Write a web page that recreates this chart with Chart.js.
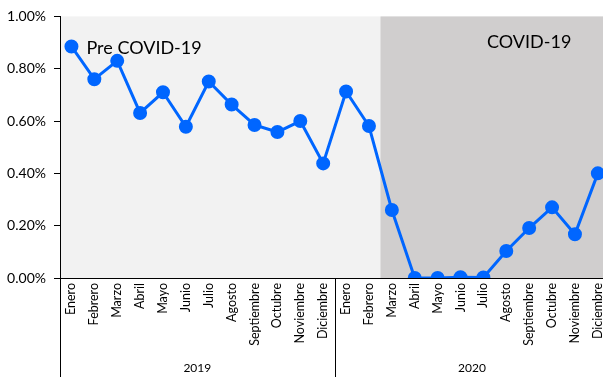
<!DOCTYPE html>
<html>
<head>
<meta charset="utf-8">
<script src="https://cdn.jsdelivr.net/npm/chart.js@4/dist/chart.umd.min.js"></script>
<style>
  html, body { margin: 0; padding: 0; background: #fff; overflow: hidden; }
  #chart { display: block; }
</style>
</head>
<body>
<canvas id="chart" width="618" height="377"></canvas>
<script>
const months = ['Enero', 'Febrero', 'Marzo', 'Abril', 'Mayo', 'Junio', 'Julio', 'Agosto',
    'Septiembre', 'Octubre', 'Noviembre', 'Diciembre'];
const years = ['2019', '2020'];
const labels = years.flatMap(() => months);

// monthly rate, in percent
const rate2019 = [0.885, 0.76, 0.83, 0.631, 0.71, 0.578, 0.751, 0.663, 0.585, 0.558, 0.60, 0.438];
const rate2020 = [0.713, 0.581, 0.26, 0.0, 0.0, 0.003, 0.002, 0.103, 0.191, 0.27, 0.167, 0.40];
const rates = rate2019.concat(rate2020).map(v => v / 100);

// first month of the COVID-19 period (Marzo 2020)
const covidStart = 14;
const periodLabels = ['Pre COVID-19', 'COVID-19'];

const FONT = 'Lato, "Open Sans", sans-serif';

const periodsPlugin = {
    id: 'periods',
    beforeDraw(chart) {
        const { ctx, chartArea, scales: { x } } = chart;
        const split = (x.getPixelForValue(covidStart - 1) + x.getPixelForValue(covidStart)) / 2;
        ctx.save();
        ctx.fillStyle = '#f2f2f2';
        ctx.fillRect(chartArea.left, chartArea.top, split - chartArea.left, chartArea.bottom - chartArea.top);
        ctx.fillStyle = '#d0cece';
        ctx.fillRect(split, chartArea.top, chartArea.right - split, chartArea.bottom - chartArea.top);
        ctx.restore();
    },
    afterDraw(chart) {
        const { ctx, chartArea, scales: { x, y } } = chart;
        const step = x.getPixelForValue(1) - x.getPixelForValue(0);
        const bottom = chart.height;
        ctx.save();
        // year group separators and labels
        ctx.strokeStyle = '#000';
        ctx.lineWidth = 1;
        years.forEach((yr, i) => {
            const first = x.getPixelForValue(i * 12) - step / 2;
            const last = x.getPixelForValue(i * 12 + 11) + step / 2;
            [first, last].forEach(px => {
                const sx = Math.round(px) + 0.5;
                ctx.beginPath();
                ctx.moveTo(sx, chartArea.bottom);
                ctx.lineTo(sx, bottom);
                ctx.stroke();
            });
            ctx.fillStyle = '#000';
            ctx.font = '12px ' + FONT;
            ctx.textAlign = 'center';
            ctx.textBaseline = 'middle';
            ctx.fillText(yr, (first + last) / 2, bottom - 9);
        });
        // period captions
        ctx.font = '18px ' + FONT;
        ctx.fillStyle = '#000';
        ctx.textBaseline = 'middle';
        ctx.textAlign = 'left';
        ctx.fillText(periodLabels[0], x.getPixelForValue(0) + 15, y.getPixelForValue(0.0088));
        ctx.textAlign = 'center';
        ctx.fillText(periodLabels[1], x.getPixelForValue(20), y.getPixelForValue(0.0090));
        ctx.restore();
    }
};

new Chart(document.getElementById('chart'), {
    type: 'line',
    data: {
        labels: labels,
        datasets: [{
            data: rates,
            borderColor: '#0066ff',
            backgroundColor: '#0066ff',
            borderWidth: 3,
            pointRadius: 5.5,
            pointHoverRadius: 5.5,
            tension: 0,
            fill: false
        }]
    },
    options: {
        responsive: false,
        animation: false,
        layout: { padding: { top: 16, left: 0, right: 0, bottom: 0 } },
        plugins: {
            legend: { display: false },
            tooltip: { enabled: false }
        },
        scales: {
            x: {
                offset: true,
                grid: { display: false, drawTicks: false },
                border: { display: true, color: '#000', width: 1 },
                ticks: {
                    autoSkip: false,
                    maxRotation: 90,
                    minRotation: 90,
                    padding: 5,
                    color: '#000',
                    font: { family: FONT, size: 12.5 }
                },
                afterFit(scale) { scale.height = 99; }
            },
            y: {
                min: 0,
                max: 0.01,
                grid: { drawOnChartArea: false, tickLength: 6, color: '#000' },
                border: { display: true, color: '#000', width: 1 },
                ticks: {
                    stepSize: 0.002,
                    padding: 8,
                    color: '#000',
                    font: { family: FONT, size: 14 },
                    callback: v => (v * 100).toFixed(2) + '%'
                },
                afterFit(scale) { scale.width = 60; }
            }
        }
    },
    plugins: [periodsPlugin]
});
</script>
</body>
</html>
